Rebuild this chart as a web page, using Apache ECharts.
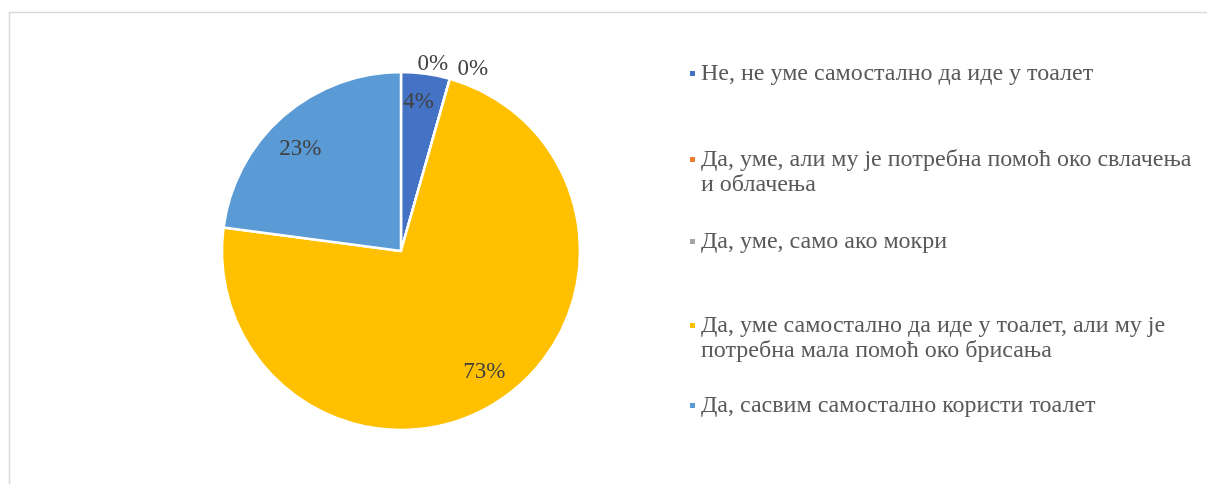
<!DOCTYPE html>
<html>
<head>
<meta charset="utf-8">
<script src="https://cdn.jsdelivr.net/npm/echarts@6/dist/echarts.min.js"></script>
<style>
  html, body { margin: 0; padding: 0; background: #fff; }
  #chart { width: 1207px; height: 484px; }
</style>
</head>
<body>
<div id="chart"></div>
<script>
const categories = [
  'Не, не уме самостално да иде у тоалет',
  'Да, уме, али му је потребна помоћ око свлачења и облачења',
  'Да, уме, само ако мокри',
  'Да, уме самостално да иде у тоалет, али му је потребна мала помоћ око брисања',
  'Да, сасвим самостално користи тоалет',
]
// legend text as wrapped in the original
const legendLines = [
  'Не, не уме самостално да иде у тоалет',
  'Да, уме, али му је потребна помоћ око свлачења\nи облачења',
  'Да, уме, само ако мокри',
  'Да, уме самостално да иде у тоалет, али му је\nпотребна мала помоћ око брисања',
  'Да, сасвим самостално користи тоалет',
]
const shares = [4.4, 0, 0, 72.7, 22.9]
const colors = ['#4472C4', '#ED7D31', '#A5A5A5', '#FFC000', '#5B9BD5']
// first text line of each legend entry (y)
const legendRows = [73, 158, 241, 324, 405]

const font = '"Liberation Serif", "Times New Roman", serif'
const center = [401, 251]
const R = 179

const chart = echarts.init(document.getElementById('chart'))

const pieData = categories.map((name, i) => ({
  name,
  value: shares[i],
  itemStyle: { color: colors[i] },
}))

// Excel nudges some labels; mimic that with small offsets
const labelOffsets = { 0: [-3, -1], 1: [-40, -5], 2: [0, 0], 3: [1, -4], 4: [-2, 11] }
const labelData = categories.map((name, i) => {
  const item = { name, value: shares[i] }
  if (shares[i] === 0) {
    item.label = { position: 'outside', offset: labelOffsets[i] }
  } else {
    item.label = { offset: labelOffsets[i] }
  }
  return item
})

const option = {
  backgroundColor: '#fff',
  animation: false,
  graphic: [
    {
      type: 'rect',
      left: 7,
      top: 10,
      shape: { width: 1220, height: 500 },
      style: { fill: 'none', stroke: '#d9d9d9', lineWidth: 1.5 },
      silent: true,
    },
  ],
  legend: categories.map((name, i) => {
    const twoLines = legendLines[i].includes('\n')
    return {
      data: [name],
      orient: 'vertical',
      left: 683,
      // an empty first line keeps the marker level with the first text line
      top: legendRows[i] - (twoLines ? 41 : 17),
      icon: 'rect',
      itemWidth: 7,
      itemHeight: 7,
      itemGap: 0,
      selectedMode: false,
      formatter: () => (twoLines ? '\n' : '') + legendLines[i],
      textStyle: {
        fontFamily: font,
        fontSize: 24,
        color: '#595959',
        lineHeight: 25,
      },
    }
  }),
  series: [
    {
      name: 'slices',
      type: 'pie',
      center,
      radius: [0, R],
      startAngle: 90,
      clockwise: true,
      silent: true,
      label: { show: false },
      labelLine: { show: false },
      itemStyle: { borderColor: '#fff', borderWidth: 2.5 },
      data: pieData,
    },
    {
      name: 'labels',
      type: 'pie',
      center,
      radius: [R * 0.64, R],
      startAngle: 90,
      clockwise: true,
      silent: true,
      avoidLabelOverlap: false,
      itemStyle: { color: 'rgba(0,0,0,0)' },
      labelLine: { show: false, length: 10, length2: 0 },
      label: {
        show: true,
        position: 'inside',
        formatter: p => Math.round(p.value) + '%',
        fontFamily: font,
        fontSize: 23,
        color: '#404040',
      },
      data: labelData,
    },
  ],
}

chart.setOption(option)
</script>
</body>
</html>
